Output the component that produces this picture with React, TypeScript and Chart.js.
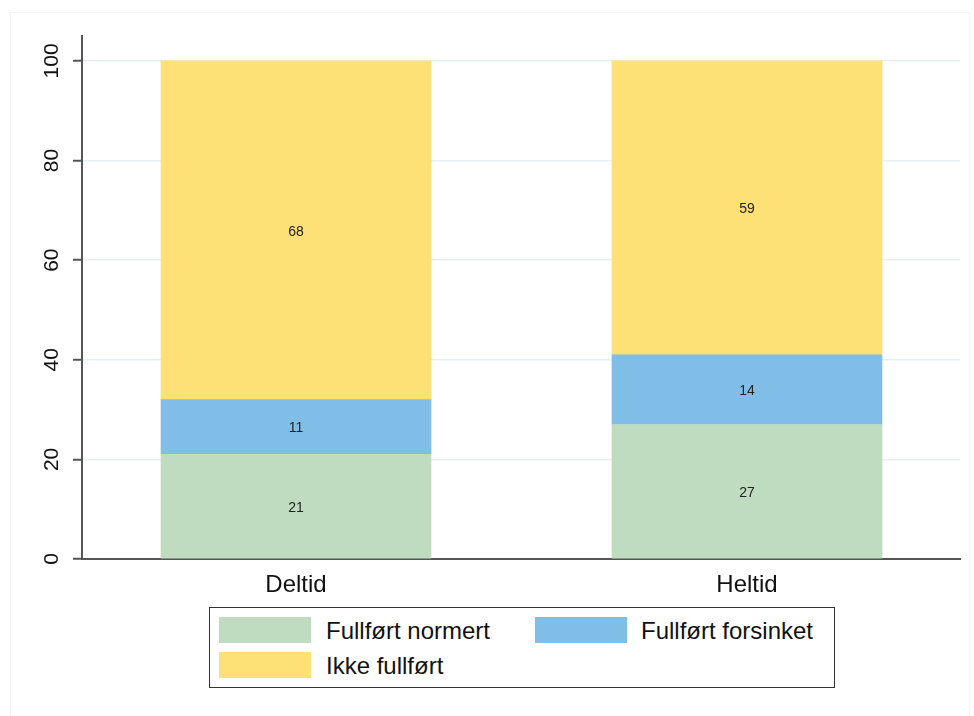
import React, { useEffect, useRef } from "react";
import { Chart, registerables } from "chart.js";

Chart.register(...registerables);

const categories = ["Deltid", "Heltid"];
const seriesNames = ["Fullført normert", "Fullført forsinket", "Ikke fullført"];
const normert = [21, 27];
const forsinket = [11, 14];
const ikkeFullfort = [68, 59];
const yTicks = [0, 20, 40, 60, 80, 100];

const colors = ["#c0dcc0", "#80bee8", "#fee176"];
const FONT = "'Liberation Sans', Arial, Helvetica, sans-serif";

const barLabels = {
  id: "barLabels",
  afterDatasetsDraw(chart: any) {
    const ctx = chart.ctx;
    ctx.save();
    ctx.font = `14px ${FONT}`;
    ctx.fillStyle = "#222";
    ctx.textAlign = "center";
    ctx.textBaseline = "middle";
    chart.data.datasets.forEach((ds: any, di: number) => {
      const meta = chart.getDatasetMeta(di);
      meta.data.forEach((el: any, i: number) => {
        const v = ds.data[i].y;
        ctx.fillText(String(v), el.x, (el.y + el.base) / 2 + 1.5);
      });
    });
    ctx.restore();
  },
};

const yLabels = {
  id: "yLabels",
  afterDraw(chart: any) {
    const ctx = chart.ctx;
    const scale = chart.scales.y;
    ctx.save();
    ctx.font = `21px ${FONT}`;
    ctx.fillStyle = "#111";
    ctx.textAlign = "center";
    ctx.textBaseline = "middle";
    scale.ticks.forEach((t: any) => {
      const y = scale.getPixelForValue(t.value);
      ctx.save();
      ctx.translate(52, y);
      ctx.rotate(-Math.PI / 2);
      ctx.fillText(String(t.value), 0, 0);
      ctx.restore();
    });
    ctx.restore();
  },
};

export default function App() {
  const ref = useRef<HTMLCanvasElement>(null);
  useEffect(() => {
    const values = [normert, forsinket, ikkeFullfort];
    const chart = new Chart(ref.current as HTMLCanvasElement, {
      type: "bar",
      data: {
        datasets: seriesNames.map((name, k) => ({
          label: name,
          data: values[k].map((v, i) => ({ x: i, y: v })),
          backgroundColor: colors[k],
          borderWidth: 0,
          barThickness: 270,
        })),
      },
      options: {
        animation: false,
        responsive: false,
        maintainAspectRatio: false,
        layout: { padding: { left: 0, right: 14, top: 36, bottom: 0 } },
        plugins: { legend: { display: false }, tooltip: { enabled: false } },
        scales: {
          x: {
            type: "linear",
            stacked: true,
            offset: false,
            min: -0.4745,
            max: 1.4723,
            afterBuildTicks: (axis: any) => {
              axis.ticks = categories.map((_, i) => ({ value: i }));
            },
            afterFit: (axis: any) => {
              axis.height = 157;
            },
            grid: { display: false, drawTicks: false, offset: false },
            border: { display: true, color: "#555", width: 2 },
            ticks: {
              padding: 12,
              color: "#111",
              font: { family: FONT, size: 24 },
              callback: (v: any) => categories[v] ?? "",
            },
          },
          y: {
            stacked: true,
            min: 0,
            max: 105,
            afterBuildTicks: (axis: any) => {
              axis.ticks = yTicks.map((v) => ({ value: v }));
            },
            afterFit: (axis: any) => {
              axis.width = 82;
            },
            grid: {
              color: "#e6eff2",
              lineWidth: 1.5,
              tickColor: "#555",
              tickLength: 9,
              tickWidth: 2,
            },
            border: { display: true, color: "#555", width: 2 },
            ticks: { display: false },
          },
        },
      },
      plugins: [barLabels, yLabels],
    } as any);
    return () => chart.destroy();
  }, []);

  const swatch = (c: string, left: number, top: number) => (
    <div style={{ position: "absolute", left, top, width: 92, height: 26, background: c }} />
  );
  const label = (t: string, left: number, top: number) => (
    <div
      style={{
        position: "absolute",
        left,
        top,
        height: 26,
        lineHeight: "26px",
        fontFamily: FONT,
        fontSize: 24,
        color: "#111",
        whiteSpace: "nowrap",
      }}
    >
      {t}
    </div>
  );

  return (
    <div style={{ position: "fixed", left: 0, top: 0, width: 974, height: 716, background: "#fff" }}>
      <div
        style={{
          position: "absolute",
          left: 10,
          top: 12,
          width: 960,
          height: 710,
          border: "1px solid #f3f3f3",
          boxSizing: "border-box",
        }}
      />
      <canvas ref={ref} width={974} height={716} style={{ position: "absolute", left: 0, top: 0 }} />
      <div
        style={{
          position: "absolute",
          left: 209,
          top: 607,
          width: 626,
          height: 81,
          border: "1.5px solid #333",
          boxSizing: "border-box",
          background: "#fff",
        }}
      />
      {swatch(colors[0], 219, 617)}
      {label(seriesNames[0], 326, 618)}
      {swatch(colors[1], 535, 617)}
      {label(seriesNames[1], 641, 618)}
      {swatch(colors[2], 219, 652)}
      {label(seriesNames[2], 326, 653)}
    </div>
  );
}
